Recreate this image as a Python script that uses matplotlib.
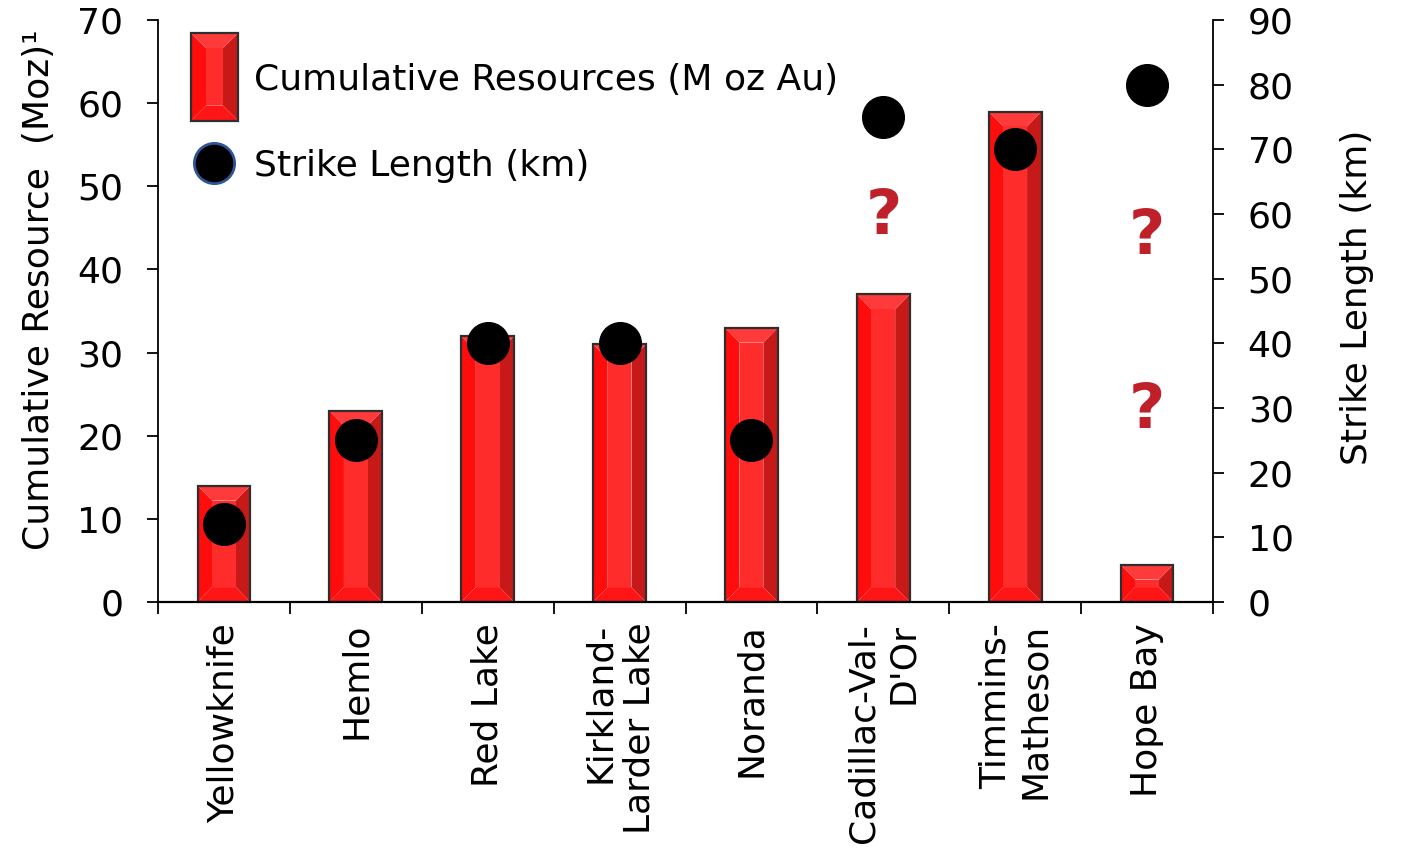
import matplotlib
matplotlib.use("Agg")
import matplotlib.pyplot as plt
from matplotlib.patches import Polygon, Rectangle
from matplotlib.legend_handler import HandlerBase
from matplotlib.lines import Line2D

# Gold camps: cumulative resources (Moz) and strike length of the host structure (km)
sites = [
    "Yellowknife",
    "Hemlo",
    "Red Lake",
    "Kirkland-\nLarder Lake",
    "Noranda",
    "Cadillac-Val-\nD'Or",
    "Timmins-\nMatheson",
    "Hope Bay",
]
resources_moz = [14, 23, 32, 31, 33, 37, 59, 4.5]
strike_km = [12, 25, 40, 40, 25, 75, 70, 80]

# uncertain strike lengths flagged with "?"
query_site_idx = [5, 7, 7]
query_km = [59.5, 56.5, 29.5]

left_ticks = list(range(0, 71, 10))
right_ticks = list(range(0, 91, 10))

FS = 26
BAR_W = 0.4
BEVEL_X = 0.11
BEVEL_Y = 1.8

FACE = {
    "left": "#FF0C0C",
    "right": "#C81919",
    "top": "#FF3A3A",
    "bottom": "#FF1515",
    "center": "#FF2C2C",
}
EDGE = "#2E2E2E"

plt.rcParams["font.family"] = ["DejaVu Sans"]


def bevel_patches(x0, y0, w, h, bx, by, transform):
    A, B, C, D = (x0, y0), (x0 + w, y0), (x0 + w, y0 + h), (x0, y0 + h)
    a, b = (x0 + bx, y0 + by), (x0 + w - bx, y0 + by)
    c, d = (x0 + w - bx, y0 + h - by), (x0 + bx, y0 + h - by)
    faces = [
        ([A, a, d, D], FACE["left"]),
        ([B, C, c, b], FACE["right"]),
        ([D, d, c, C], FACE["top"]),
        ([A, B, b, a], FACE["bottom"]),
        ([a, b, c, d], FACE["center"]),
    ]
    out = [Polygon(pts, closed=True, facecolor=col, edgecolor="none",
                   transform=transform) for pts, col in faces]
    out.append(Rectangle((x0, y0), w, h, facecolor="none", edgecolor=EDGE,
                         linewidth=1.6, transform=transform))
    return out


class BevelHandler(HandlerBase):
    # tall bevelled swatch (points), centred on the legend row
    def create_artists(self, legend, orig_handle, xdescent, ydescent,
                       width, height, fontsize, trans):
        w, h = 34, 63
        cx = -xdescent + width / 2
        cy = -ydescent + height / 2
        return bevel_patches(cx - w / 2, cy - h / 2, w, h, 11, 11, trans)


fig = plt.figure(figsize=(14.02, 8.64), dpi=100)
ax = fig.add_axes([0.1127, 0.3032, 0.7525, 0.6736])
ax2 = ax.twinx()

for i, h in enumerate(resources_moz):
    by = min(BEVEL_Y, 0.4 * h)
    for p in bevel_patches(i - BAR_W / 2, 0, BAR_W, h, BEVEL_X, by, ax.transData):
        p.set_zorder(2)
        ax.add_patch(p)

ax2.plot(range(len(sites)), strike_km, linestyle="none", marker="o",
         markersize=30, markerfacecolor="black", markeredgecolor="black", zorder=3)

for i, km in zip(query_site_idx, query_km):
    ax2.text(i, km, "?", color="#C0202A", fontsize=45, fontweight="bold",
             ha="center", va="center")

ax.set_xlim(-0.5, len(sites) - 0.5)
ax.set_ylim(0, 70)
ax2.set_ylim(0, 90)

ax.set_xticks(range(len(sites)))
ax.set_xticklabels(sites, rotation=90, fontsize=FS, va="top", ha="center",
                   multialignment="right")
ax.set_xticks([i - 0.5 for i in range(len(sites) + 1)], minor=True)
ax.tick_params(axis="x", which="major", length=0, pad=15)
ax.tick_params(axis="x", which="minor", length=8.5, width=1.3, direction="out")

ax.set_yticks(left_ticks)
ax.tick_params(axis="y", which="major", length=8, width=1.3, direction="out",
               labelsize=FS, pad=17)
ax2.set_yticks(right_ticks)
ax2.tick_params(axis="y", which="major", length=8, width=1.3, direction="out",
                labelsize=FS, pad=17)

for s in ("top", "right"):
    ax.spines[s].set_visible(False)
for s in ("top", "left", "bottom"):
    ax2.spines[s].set_visible(False)
ax.spines["left"].set_linewidth(1.3)
ax.spines["bottom"].set_linewidth(1.6)
ax2.spines["right"].set_linewidth(1.3)

ax.set_ylabel("Cumulative Resource  (Moz)\u00b9", fontsize=FS)
ax.yaxis.set_label_coords(-0.097, 0.536)
ax2.set_ylabel("Strike Length (km)", fontsize=FS)
ax2.yaxis.set_label_coords(1.1204, 0.524)

bar_proxy = Rectangle((0, 0), 1, 1)
dot_proxy = Line2D([], [], linestyle="none", marker="o", markersize=29,
                   markerfacecolor="black", markeredgecolor="#2F5597",
                   markeredgewidth=2)
ax2.legend([bar_proxy, dot_proxy],
           ["Cumulative Resources (M oz Au)", "Strike Length (km)"],
           handler_map={bar_proxy: BevelHandler()},
           loc="upper left", bbox_to_anchor=(0.0313, 0.927),
           frameon=False, fontsize=FS, borderpad=0, borderaxespad=0,
           handlelength=1.3, handleheight=0.7, handletextpad=0.45,
           labelspacing=1.45)

fig.savefig("out.png", dpi=100)
